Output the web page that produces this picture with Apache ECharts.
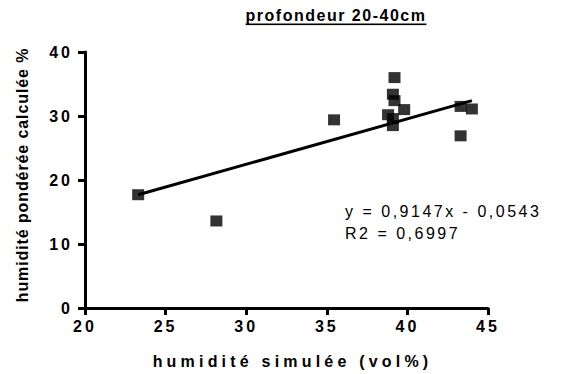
<!DOCTYPE html>
<html>
<head>
<meta charset="utf-8">
<script src="https://cdn.jsdelivr.net/npm/echarts@6/dist/echarts.min.js"></script>
<style>
  html, body { margin: 0; padding: 0; background: #ffffff; }
  #chart { width: 573px; height: 374px; }
</style>
</head>
<body>
<div id="chart"></div>
<script>
// Texts
const titleText = 'profondeur 20-40cm';
const xAxisName = 'humidité simulée (vol%)';
const yAxisName = 'humidité pondérée calculée %';
const equationLines = ['y = 0,9147x - 0,0543', 'R2 = 0,6997'];

// Measured points: simulated humidity (vol%) vs weighted computed humidity (%)
const simulated = [23.3, 28.15, 35.45, 39.2, 39.1, 39.2, 38.8, 39.1, 39.8, 39.1, 43.3, 44.0, 43.3];
const weighted  = [17.7, 13.6, 29.4, 36.0, 33.4, 32.4, 30.2, 29.6, 31.0, 28.5, 31.5, 31.1, 26.9];

// Trend line end points
const fitX = [23.3, 44.0];
const fitY = [17.7, 32.4];

// Axis ranges
const xMin = 20, xMax = 45, xStep = 5;
const yMin = 0, yMax = 40, yStep = 10;

const points = simulated.map((x, i) => [x, weighted[i]]);
const fitLine = fitX.map((x, i) => [x, fitY[i]]);

const chart = echarts.init(document.getElementById('chart'), null, { renderer: 'svg' });

const boldText = { color: '#000', fontFamily: 'Arial, Liberation Sans', fontWeight: 'bold', fontSize: 16 };

const axisCommon = {
  axisLine: { show: true, lineStyle: { color: '#000', width: 3 } },
  axisTick: { show: true, length: 7, lineStyle: { color: '#000', width: 3 } },
  splitLine: { show: false },
  nameLocation: 'middle',
  axisLabel: Object.assign({}, boldText)
};

chart.setOption({
  animation: false,
  backgroundColor: '#ffffff',
  title: {
    text: titleText,
    left: 331,
    top: 2,
    textAlign: 'center',
    textStyle: Object.assign({}, boldText)
  },
  grid: { left: 85, right: 85, top: 52, bottom: 65, containLabel: false },
  xAxis: Object.assign({}, axisCommon, {
    type: 'value', min: xMin, max: xMax, interval: xStep,
    name: xAxisName, nameGap: 45,
    nameTextStyle: Object.assign({}, boldText, { padding: [0, 0, 0, 12] }),
    axisLabel: Object.assign({}, axisCommon.axisLabel, { margin: 10 })
  }),
  yAxis: Object.assign({}, axisCommon, {
    type: 'value', min: yMin, max: yMax, interval: yStep,
    name: yAxisName, nameGap: 55,
    nameTextStyle: Object.assign({}, boldText, { padding: [0, 0, 0, 10] }),
    axisLabel: Object.assign({}, axisCommon.axisLabel, { margin: 12 })
  }),
  graphic: [{
    type: 'text',
    left: 345,
    top: 200,
    style: {
      text: equationLines.join('\n'),
      fill: '#000',
      font: '16px Arial, "Liberation Sans"',
      lineHeight: 22
    }
  }],
  series: [
    {
      type: 'line',
      data: fitLine,
      symbol: 'none',
      lineStyle: { color: '#000', width: 3 },
      z: 2
    },
    {
      type: 'scatter',
      data: points,
      symbol: 'rect',
      symbolSize: [12, 11],
      itemStyle: { color: '#000' },
      z: 3
    }
  ]
});

// Letter spacing and underline for the bold labels
function styleTexts() {
  const svgTexts = document.querySelectorAll('#chart svg text');
  svgTexts.forEach(t => {
    const s = t.textContent;
    if (s === titleText) {
      t.style.letterSpacing = '1.5px';
      t.style.textDecoration = 'underline';
    } else if (s === xAxisName) {
      t.style.letterSpacing = '4.2px';
    } else if (s === yAxisName) {
      t.style.letterSpacing = '0.9px';
    } else if (equationLines.some(l => s.indexOf(l) >= 0)) {
      t.style.letterSpacing = '2.5px';
    } else if (/^\d+$/.test(s)) {
      t.style.letterSpacing = '3px';
    }
  });
}
styleTexts();
chart.on('finished', styleTexts);
</script>
</body>
</html>
